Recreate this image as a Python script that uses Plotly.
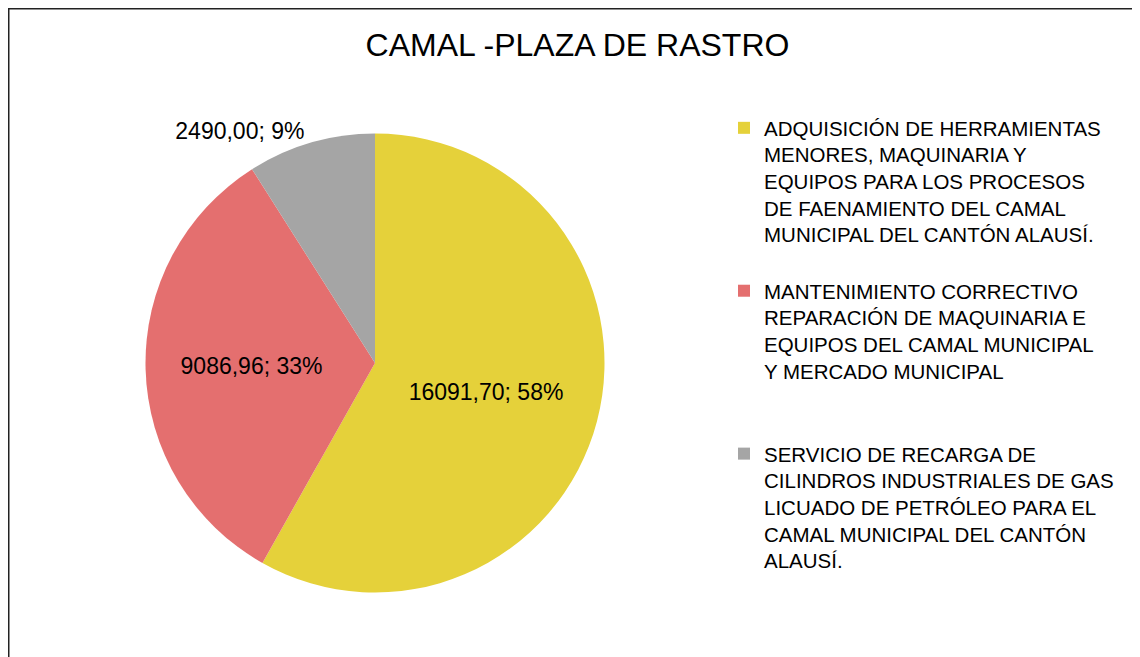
import plotly.graph_objects as go

title = "CAMAL -PLAZA DE RASTRO"
categories = [
    "ADQUISICIÓN DE HERRAMIENTAS MENORES, MAQUINARIA Y EQUIPOS PARA LOS PROCESOS DE FAENAMIENTO DEL CAMAL MUNICIPAL DEL CANTÓN ALAUSÍ.",
    "MANTENIMIENTO CORRECTIVO REPARACIÓN DE MAQUINARIA E EQUIPOS DEL CAMAL MUNICIPAL Y MERCADO MUNICIPAL",
    "SERVICIO DE RECARGA DE CILINDROS INDUSTRIALES DE GAS LICUADO DE PETRÓLEO PARA EL CAMAL MUNICIPAL DEL CANTÓN ALAUSÍ.",
]
legend_lines = [
    ["ADQUISICIÓN DE HERRAMIENTAS", "MENORES, MAQUINARIA Y", "EQUIPOS PARA LOS PROCESOS",
     "DE FAENAMIENTO DEL CAMAL", "MUNICIPAL DEL CANTÓN ALAUSÍ."],
    ["MANTENIMIENTO CORRECTIVO", "REPARACIÓN DE MAQUINARIA E", "EQUIPOS DEL CAMAL MUNICIPAL",
     "Y MERCADO MUNICIPAL"],
    ["SERVICIO DE RECARGA DE", "CILINDROS INDUSTRIALES DE GAS", "LICUADO DE PETRÓLEO PARA EL",
     "CAMAL MUNICIPAL DEL CANTÓN", "ALAUSÍ."],
]
values = [16091.70, 9086.96, 2490.00]
colors = ["#E5D13A", "#E46F6F", "#A5A5A5"]

FONT = "Liberation Sans, Arial, sans-serif"
W, H = 1140, 657
OFF = 8  # page margin offset of the figure inside the browser window
cx, cy, r = 375 - OFF, 363 - OFF, 229.5

# blank lines after each legend entry to mimic the spacing of the original legend
pad = [1, 2, 0]
display = ["<br>".join(lines) + "<br> " * p for lines, p in zip(legend_lines, pad)]

fig = go.Figure(go.Pie(
    labels=display,
    values=values,
    customdata=categories,
    sort=False,
    direction="clockwise",
    rotation=0,
    marker=dict(colors=colors, line=dict(width=0)),
    texttemplate="%{value:.2f}; %{percent:.0%}",
    textposition=["inside", "inside", "outside"],
    insidetextorientation="horizontal",
    textfont=dict(family=FONT, size=23, color="black"),
    hovertemplate="%{customdata}<br>%{value:.2f}; %{percent:.0%}<extra></extra>",
    domain=dict(x=[(cx - r) / W, (cx + r) / W], y=[(H - cy - r) / H, (H - cy + r) / H]),
))

fig.update_layout(
    width=W, height=H,
    margin=dict(l=0, r=0, t=0, b=0),
    paper_bgcolor="white",
    separators=",.",
    font=dict(family=FONT, color="black"),
    title=dict(text=title, x=(577.5 - OFF) / W, y=1 - (45 - OFF) / H, xanchor="center", yanchor="middle",
               font=dict(family=FONT, size=32, color="black")),
    showlegend=True,
    legend=dict(x=716 / W, y=1 - 100 / H, xanchor="left", yanchor="top", valign="top",
                font=dict(family=FONT, size=20.5, color="black"), bgcolor="rgba(0,0,0,0)"),
    shapes=[dict(type="rect", xref="paper", yref="paper", x0=0.5 / W, x1=1.02, y0=-0.02, y1=1 - 0.5 / H,
                 line=dict(color="#222222", width=2), fillcolor="rgba(0,0,0,0)", layer="above")],
)

fig.write_html("out.html")
